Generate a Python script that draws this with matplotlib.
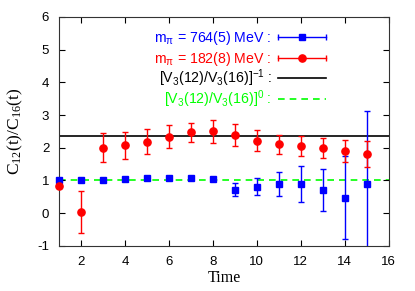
import matplotlib
matplotlib.use("Agg")
import matplotlib.pyplot as plt
from matplotlib.lines import Line2D
import numpy as np

t = np.arange(1, 16)
red_y = [0.83, 0.03, 2.00, 2.07, 2.18, 2.33, 2.47, 2.50, 2.39, 2.22, 2.10, 2.05, 2.00, 1.90, 1.81]
red_e = [0.05, 0.65, 0.45, 0.40, 0.38, 0.35, 0.30, 0.35, 0.35, 0.31, 0.30, 0.31, 0.30, 0.34, 0.40]
blue_y = [1.00, 1.01, 1.01, 1.05, 1.08, 1.08, 1.07, 1.03, 0.72, 0.81, 0.90, 0.89, 0.72, 0.47, 0.89]
blue_e = [0.02, 0.02, 0.02, 0.02, 0.02, 0.02, 0.02, 0.03, 0.19, 0.25, 0.36, 0.55, 0.64, 1.27, 2.22]
line_inv = 2.37
line_zero = 1.0
xticks = [2, 4, 6, 8, 10, 12, 14, 16]
yticks = [-1, 0, 1, 2, 3, 4, 5, 6]
labels = [r'm$\mathregular{_{π}}$ = 764(5) MeV :',
          r'm$\mathregular{_{π}}$ = 182(8) MeV :',
          r'[V$\mathregular{_3}$(12)/V$\mathregular{_3}$(16)]$\mathregular{^{-1}}$ :',
          r'[V$\mathregular{_3}$(12)/V$\mathregular{_3}$(16)]$\mathregular{^{0}}$ :']

BLUE = '#0000ff'
RED = '#ff0000'
GREEN = '#00ff00'

plt.rcParams['font.family'] = ['Liberation Sans', 'DejaVu Sans']

fig = plt.figure(figsize=(4.15, 2.91), dpi=100)
ax = fig.add_axes([0.142, 0.155, 0.795, 0.787])

ax.axhline(line_inv, color='black', lw=1.2, zorder=1)
ax.axhline(line_zero, color=GREEN, lw=1.2, ls=(0, (4, 3)), zorder=1)

ax.errorbar(t, blue_y, yerr=blue_e, fmt='none', ecolor=BLUE, elinewidth=1.0, capsize=2, capthick=1.0, zorder=2)
ax.errorbar(t, red_y, yerr=red_e, fmt='none', ecolor=RED, elinewidth=1.0, capsize=2, capthick=1.0, zorder=3)
ax.plot(t, blue_y, 's', color=BLUE, ms=4.5, ls='none', clip_on=False, zorder=4)
ax.plot(t, red_y, 'o', color=RED, ms=5.2, ls='none', clip_on=False, zorder=5)

ax.set_xlim(1, 16)
ax.set_ylim(-1, 6)
ax.set_xticks(xticks)
ax.set_yticks(yticks)
ax.tick_params(direction='in', top=True, right=True, labelsize=9.5, length=4, width=0.8, pad=7)
ax.set_xticklabels([str(v) for v in xticks])
ax.set_yticklabels([str(v) for v in yticks])
for s in ax.spines.values():
    s.set_linewidth(0.8)
    s.set_color('#333333')

ax.set_xlabel('Time', family=['Liberation Serif'], fontsize=11.5, labelpad=2)
ax.set_ylabel(r'C$\mathregular{_{12}}$(t)/C$\mathregular{_{16}}$(t)', family=['Liberation Serif'], fontsize=12.5, labelpad=9)

# manual key (gnuplot style: text right-aligned, sample to the right)
rows = [0.913, 0.821, 0.732, 0.640]
colors = [BLUE, RED, 'black', GREEN]
tx = 0.645
sx0, sx1 = 0.664, 0.809
tr = ax.transAxes
for i, (lab, col, ry) in enumerate(zip(labels, colors, rows)):
    ax.text(tx, ry - 0.021, lab, color=col, fontsize=10.2, ha='right', va='baseline', transform=tr)
    if i == 0 or i == 1:
        ax.add_line(Line2D([sx0, sx1], [ry, ry], color=col, lw=1.0, transform=tr, clip_on=False))
        ax.add_line(Line2D([sx0, sx1], [ry, ry], color=col, ls='none', marker='|', ms=4, mew=1.0,
                           transform=tr, clip_on=False))
        ax.add_line(Line2D([(sx0 + sx1) / 2], [ry], color=col, ls='none',
                           marker='s' if i == 0 else 'o', ms=4.5 if i == 0 else 5.2,
                           transform=tr, clip_on=False))
    elif i == 2:
        ax.add_line(Line2D([sx0, sx1], [ry, ry], color=col, lw=1.2, transform=tr, clip_on=False))
    else:
        ax.add_line(Line2D([sx0, sx1], [ry, ry], color=col, lw=1.2, ls=(0, (4, 3)), transform=tr, clip_on=False))

fig.savefig('out.png', dpi=100)
